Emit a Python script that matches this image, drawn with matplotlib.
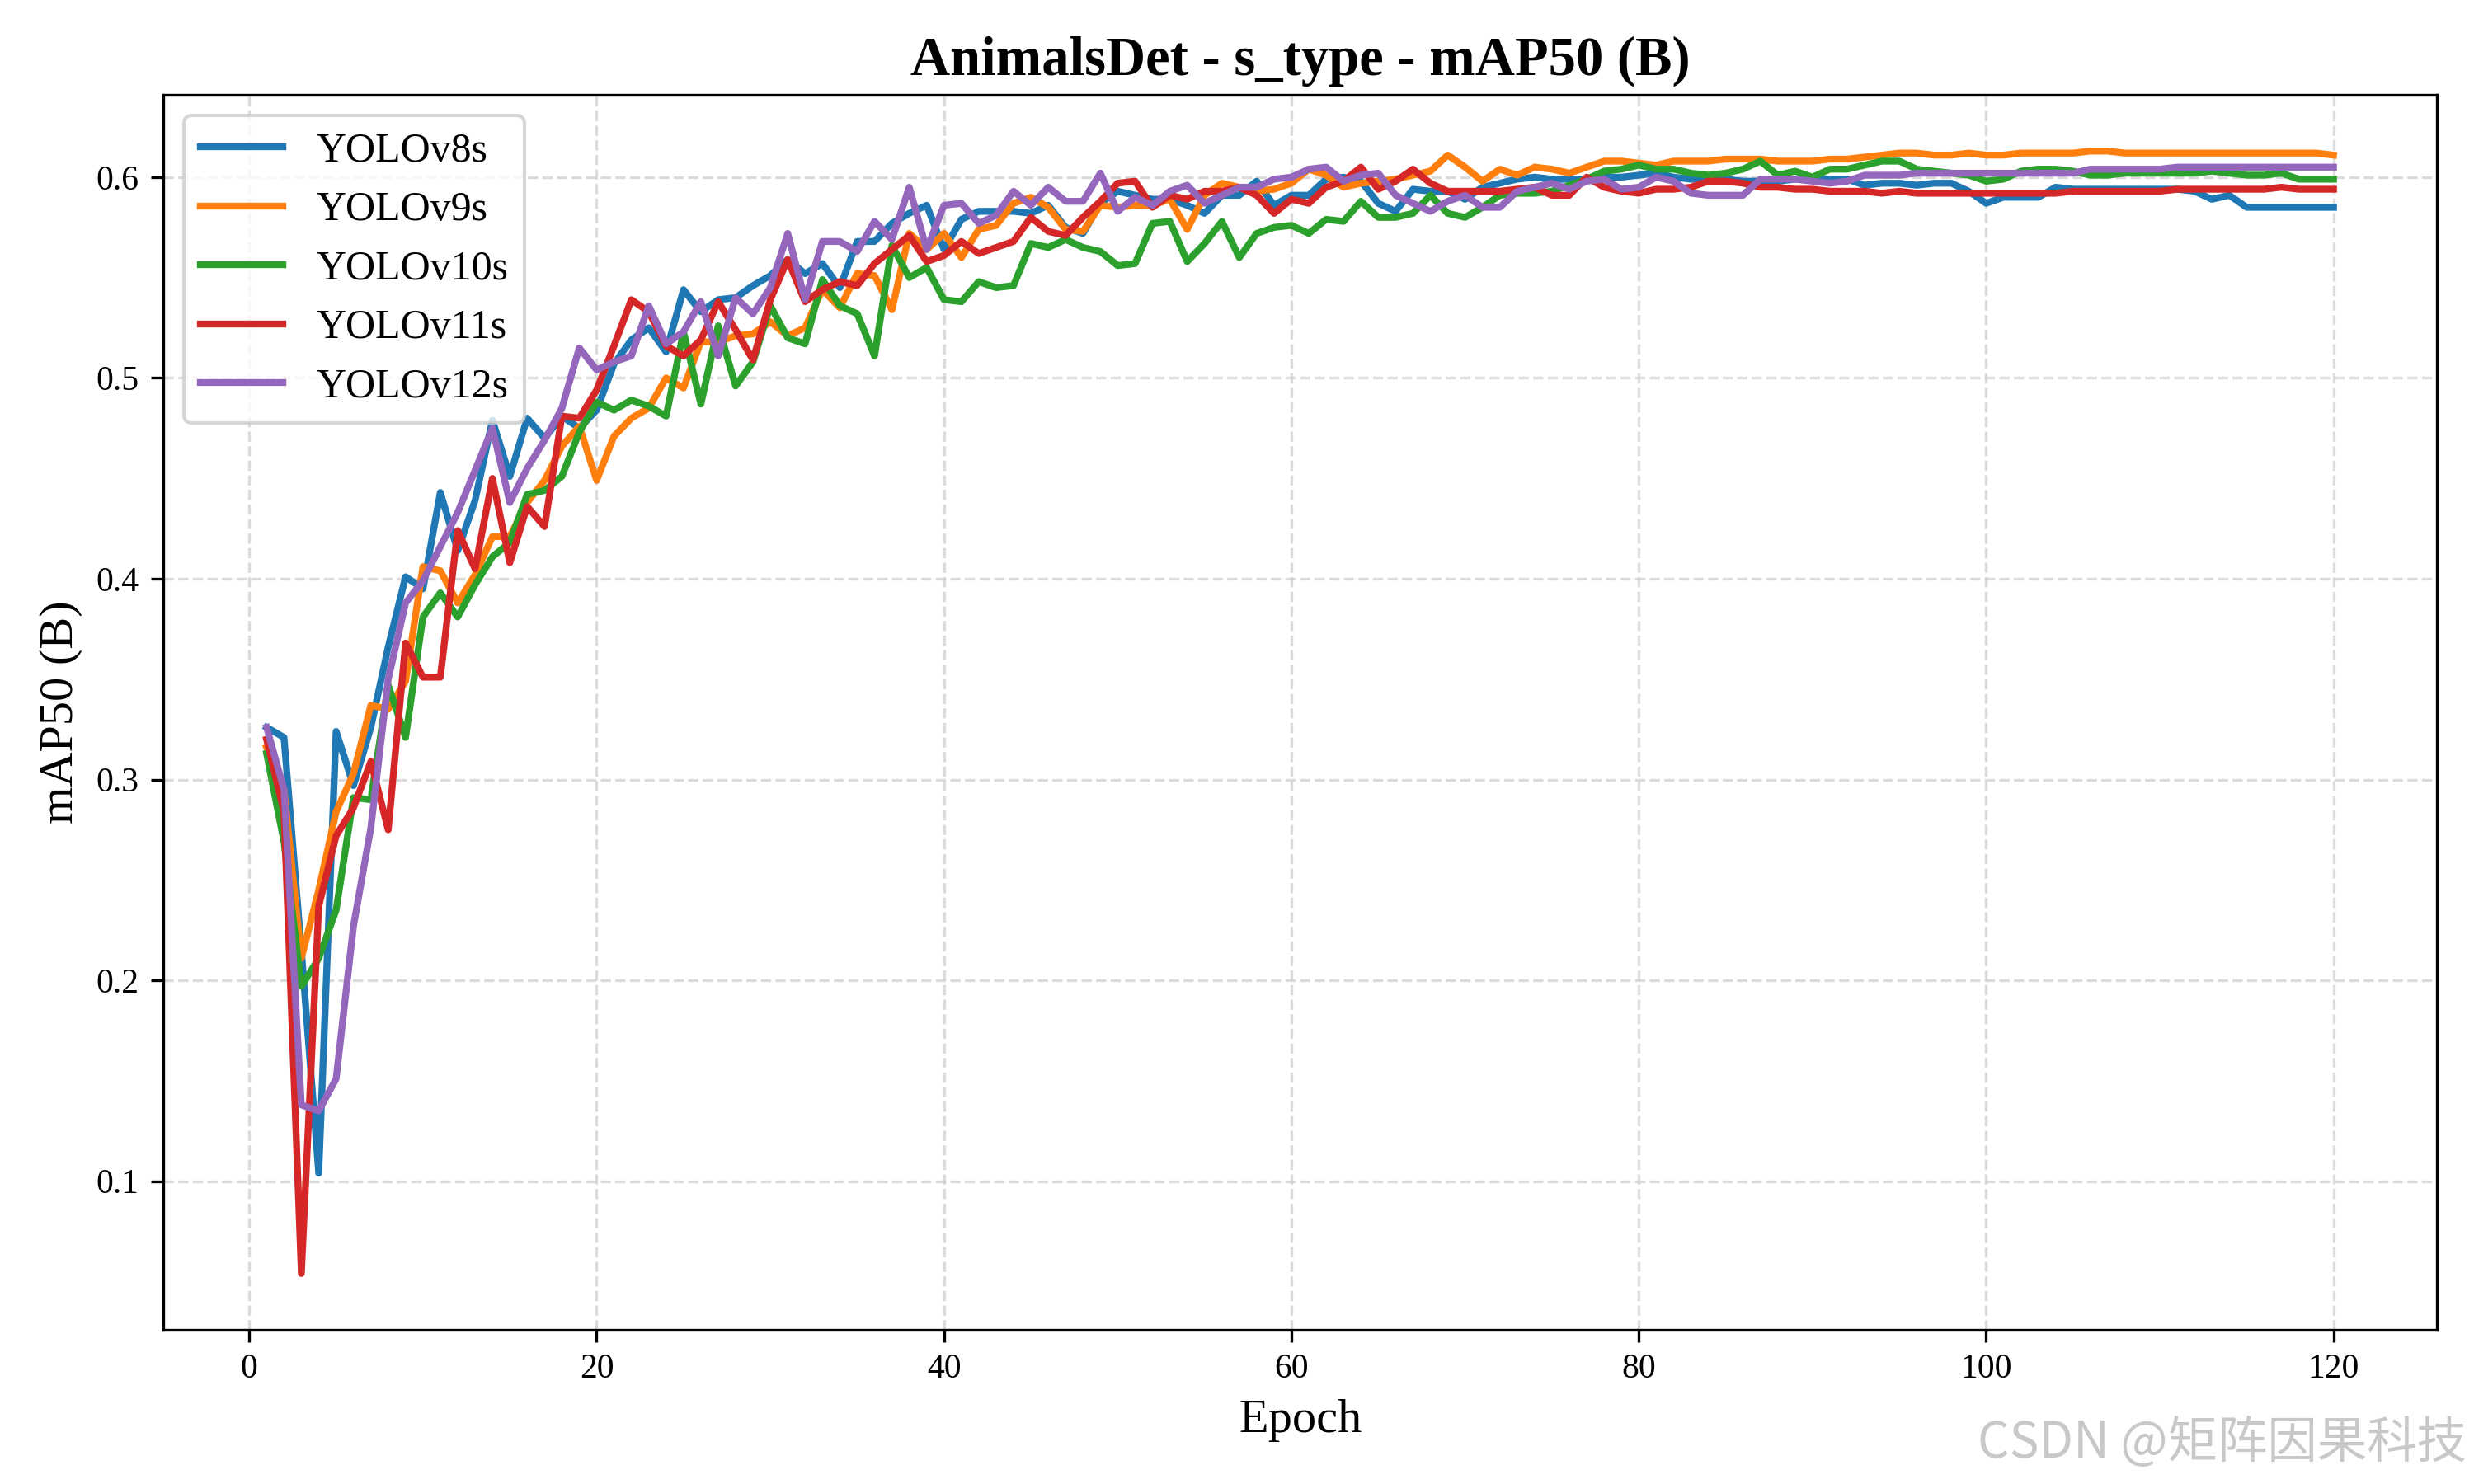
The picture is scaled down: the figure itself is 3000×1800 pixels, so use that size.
import matplotlib
matplotlib.use("Agg")
import matplotlib.pyplot as plt
import numpy as np

plt.rcParams['font.family'] = ['Liberation Serif', 'DejaVu Serif']

epochs = np.arange(1, 121)

yolov8s = [0.326, 0.321, 0.215, 0.104, 0.324, 0.297, 0.326, 0.366, 0.401, 0.395,
           0.443, 0.414, 0.439, 0.479, 0.451, 0.480, 0.470, 0.481, 0.475, 0.484,
           0.507, 0.519, 0.525, 0.513, 0.544, 0.533, 0.539, 0.540, 0.546, 0.551,
           0.559, 0.552, 0.557, 0.545, 0.568, 0.568, 0.577, 0.582, 0.586, 0.564,
           0.579, 0.583, 0.583, 0.583, 0.582, 0.586, 0.575, 0.572, 0.587, 0.593,
           0.591, 0.589, 0.589, 0.586, 0.582, 0.591, 0.591, 0.598, 0.586, 0.591,
           0.591, 0.599, 0.600, 0.598, 0.587, 0.583, 0.594, 0.593, 0.593, 0.589,
           0.595, 0.597, 0.599, 0.600, 0.599, 0.599, 0.599, 0.600, 0.600, 0.601,
           0.602, 0.600, 0.599, 0.599, 0.599, 0.598, 0.598, 0.598, 0.599, 0.599,
           0.599, 0.599, 0.596, 0.597, 0.597, 0.596, 0.597, 0.597, 0.593, 0.587,
           0.590, 0.590, 0.590, 0.595, 0.594, 0.594, 0.594, 0.594, 0.594, 0.594,
           0.594, 0.593, 0.589, 0.591, 0.585, 0.585, 0.585, 0.585, 0.585, 0.585]

yolov9s = [0.316, 0.295, 0.211, 0.245, 0.284, 0.303, 0.337, 0.335, 0.349, 0.406,
           0.404, 0.388, 0.402, 0.421, 0.421, 0.438, 0.449, 0.466, 0.476, 0.449,
           0.471, 0.480, 0.485, 0.500, 0.495, 0.518, 0.518, 0.521, 0.522, 0.528,
           0.521, 0.525, 0.544, 0.535, 0.552, 0.551, 0.534, 0.572, 0.564, 0.572,
           0.560, 0.574, 0.576, 0.587, 0.590, 0.585, 0.574, 0.573, 0.586, 0.585,
           0.586, 0.586, 0.589, 0.574, 0.591, 0.597, 0.595, 0.593, 0.594, 0.597,
           0.604, 0.601, 0.595, 0.597, 0.598, 0.599, 0.601, 0.603, 0.611, 0.605,
           0.598, 0.604, 0.601, 0.605, 0.604, 0.602, 0.605, 0.608, 0.608, 0.607,
           0.606, 0.608, 0.608, 0.608, 0.609, 0.609, 0.609, 0.608, 0.608, 0.608,
           0.609, 0.609, 0.610, 0.611, 0.612, 0.612, 0.611, 0.611, 0.612, 0.611,
           0.611, 0.612, 0.612, 0.612, 0.612, 0.613, 0.613, 0.612, 0.612, 0.612,
           0.612, 0.612, 0.612, 0.612, 0.612, 0.612, 0.612, 0.612, 0.612, 0.611]

yolov10s = [0.313, 0.269, 0.197, 0.211, 0.235, 0.291, 0.290, 0.347, 0.321, 0.381,
            0.393, 0.381, 0.397, 0.411, 0.418, 0.442, 0.444, 0.451, 0.473, 0.488,
            0.484, 0.489, 0.486, 0.481, 0.523, 0.487, 0.526, 0.496, 0.508, 0.536,
            0.520, 0.517, 0.549, 0.536, 0.532, 0.511, 0.566, 0.550, 0.555, 0.539,
            0.538, 0.548, 0.545, 0.546, 0.567, 0.565, 0.569, 0.565, 0.563, 0.556,
            0.557, 0.577, 0.578, 0.558, 0.567, 0.578, 0.560, 0.572, 0.575, 0.576,
            0.572, 0.579, 0.578, 0.588, 0.580, 0.580, 0.582, 0.591, 0.582, 0.580,
            0.585, 0.591, 0.592, 0.592, 0.593, 0.596, 0.599, 0.603, 0.604, 0.606,
            0.604, 0.604, 0.602, 0.601, 0.602, 0.604, 0.608, 0.601, 0.603, 0.600,
            0.604, 0.604, 0.606, 0.608, 0.608, 0.604, 0.603, 0.602, 0.601, 0.598,
            0.599, 0.603, 0.604, 0.604, 0.603, 0.601, 0.601, 0.602, 0.602, 0.602,
            0.602, 0.602, 0.603, 0.602, 0.601, 0.601, 0.602, 0.599, 0.599, 0.599]

yolov11s = [0.320, 0.284, 0.054, 0.237, 0.272, 0.286, 0.309, 0.275, 0.368, 0.351,
            0.351, 0.424, 0.405, 0.450, 0.408, 0.436, 0.426, 0.481, 0.480, 0.494,
            0.516, 0.539, 0.533, 0.516, 0.511, 0.519, 0.538, 0.524, 0.509, 0.539,
            0.559, 0.538, 0.544, 0.548, 0.546, 0.557, 0.564, 0.571, 0.558, 0.561,
            0.568, 0.562, 0.565, 0.568, 0.580, 0.573, 0.571, 0.580, 0.588, 0.597,
            0.598, 0.585, 0.591, 0.589, 0.593, 0.593, 0.595, 0.591, 0.582, 0.589,
            0.587, 0.595, 0.598, 0.605, 0.594, 0.598, 0.604, 0.597, 0.593, 0.593,
            0.593, 0.593, 0.594, 0.595, 0.591, 0.591, 0.600, 0.595, 0.593, 0.592,
            0.594, 0.594, 0.595, 0.598, 0.598, 0.597, 0.595, 0.595, 0.594, 0.594,
            0.593, 0.593, 0.593, 0.592, 0.593, 0.592, 0.592, 0.592, 0.592, 0.592,
            0.592, 0.592, 0.592, 0.592, 0.593, 0.593, 0.593, 0.593, 0.593, 0.593,
            0.594, 0.594, 0.594, 0.594, 0.594, 0.594, 0.595, 0.594, 0.594, 0.594]

yolov12s = [0.326, 0.295, 0.138, 0.135, 0.151, 0.227, 0.276, 0.350, 0.388, 0.399,
            0.416, 0.433, 0.454, 0.475, 0.438, 0.455, 0.469, 0.485, 0.515, 0.504,
            0.508, 0.511, 0.536, 0.517, 0.523, 0.538, 0.511, 0.540, 0.532, 0.545,
            0.572, 0.539, 0.568, 0.568, 0.563, 0.578, 0.569, 0.595, 0.564, 0.586,
            0.587, 0.577, 0.581, 0.593, 0.586, 0.595, 0.588, 0.588, 0.602, 0.583,
            0.590, 0.586, 0.593, 0.596, 0.587, 0.591, 0.595, 0.595, 0.599, 0.600,
            0.604, 0.605, 0.598, 0.601, 0.602, 0.591, 0.587, 0.583, 0.588, 0.591,
            0.585, 0.585, 0.593, 0.595, 0.597, 0.594, 0.598, 0.599, 0.594, 0.595,
            0.600, 0.598, 0.592, 0.591, 0.591, 0.591, 0.599, 0.599, 0.599, 0.598,
            0.597, 0.598, 0.601, 0.601, 0.601, 0.602, 0.602, 0.602, 0.602, 0.602,
            0.602, 0.602, 0.602, 0.602, 0.602, 0.604, 0.604, 0.604, 0.604, 0.604,
            0.605, 0.605, 0.605, 0.605, 0.605, 0.605, 0.605, 0.605, 0.605, 0.605]

series = [("YOLOv8s", yolov8s, "#1f77b4"),
          ("YOLOv9s", yolov9s, "#ff7f0e"),
          ("YOLOv10s", yolov10s, "#2ca02c"),
          ("YOLOv11s", yolov11s, "#d62728"),
          ("YOLOv12s", yolov12s, "#9467bd")]

fig, ax = plt.subplots(figsize=(10, 6), dpi=300)

for name, vals, col in series:
    ax.plot(epochs, vals, color=col, lw=2, label=name)

ax.set_title("AnimalsDet - s_type - mAP50 (B)", fontsize=16, fontweight="bold")
ax.set_xlabel("Epoch", fontsize=14)
ax.set_ylabel("mAP50 (B)", fontsize=14)
ax.tick_params(labelsize=10)
ax.grid(True, ls="--", color="#cccccc", alpha=0.7)
ax.legend(loc="upper left", fontsize=12)

# watermark in the bottom right corner
fig.text(0.997, 0.010, "CSDN @矩阵因果科技", ha="right", va="bottom", fontsize=14.5,
         color="#c8c8c8", family=["Noto Sans CJK SC", "DejaVu Sans"])

fig.subplots_adjust(left=0.066, right=0.985, top=0.936, bottom=0.104)
fig.savefig("out.png", dpi=300)
